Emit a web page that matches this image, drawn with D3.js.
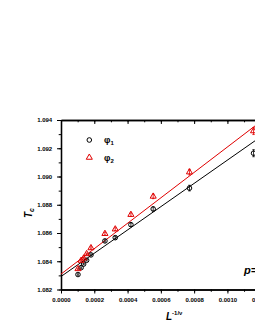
<!DOCTYPE html>
<html><head><meta charset="utf-8">
<script src="https://cdn.jsdelivr.net/npm/d3@7"></script>
<style>body{margin:0;background:#fff}svg{display:block}</style>
</head><body>
<script>
const xVals   = [0.000102,0.000121,0.000136,0.000154,0.000180,0.000264,0.000326,0.000420,0.000554,0.000772,0.001157];
const phi1    = [1.08306,1.08355,1.08380,1.08407,1.08445,1.08544,1.08567,1.08659,1.08770,1.08918,1.09165];
const phi1Err = [0.00005,0.00005,0.00005,0.00005,0.00006,0.00008,0.00010,0.00012,0.00015,0.00020,0.00025];
const phi2    = [1.08346,1.08405,1.08421,1.08452,1.08494,1.08595,1.08627,1.08730,1.08859,1.09031,1.09322];
const phi2Err = [0.00005,0.00005,0.00005,0.00006,0.00008,0.00010,0.00010,0.00012,0.00016,0.00020,0.00025];
const fit1 = {a:1.08292, b:8.24};
const fit2 = {a:1.08309, b:9.0};
const xTicks = [0,0.0002,0.0004,0.0006,0.0008,0.0010,0.0012];
const yTicks = [1.082,1.084,1.086,1.088,1.090,1.092,1.094];

const W=255,H=330;
const svg=d3.select("body").append("svg").attr("width",W).attr("height",H);
svg.append("rect").attr("width",W).attr("height",H).attr("fill","#fff");
const x=d3.scaleLinear().domain([0,0.0012]).range([61,260.7]);
const y=d3.scaleLinear().domain([1.082,1.094]).range([289.5,120]);
const font="'Liberation Sans', Arial, sans-serif";

// axes
const xMinor=d3.range(0,0.00125,0.0001);
const yMinor=d3.range(1.082,1.0945,0.001);
const xa=svg.append("g").attr("transform",`translate(0,${y(1.082)})`)
  .call(d3.axisBottom(x).tickValues(xTicks).tickFormat(d3.format(".4f")).tickSize(4).tickSizeOuter(0));
svg.append("g").attr("transform",`translate(0,${y(1.082)})`)
  .call(d3.axisBottom(x).tickValues(xMinor).tickFormat("").tickSize(2.3).tickSizeOuter(0));
const ya=svg.append("g").attr("transform",`translate(${x(0)},0)`)
  .call(d3.axisLeft(y).tickValues(yTicks).tickFormat(d3.format(".3f")).tickSize(4).tickSizeOuter(0));
svg.append("g").attr("transform",`translate(${x(0)},0)`)
  .call(d3.axisLeft(y).tickValues(yMinor).tickFormat("").tickSize(2.3).tickSizeOuter(0));
// top axis ticks inward
svg.append("g").attr("transform",`translate(0,${y(1.094)})`)
  .call(d3.axisBottom(x).tickValues(xTicks).tickFormat("").tickSize(4).tickSizeOuter(0));
svg.append("g").attr("transform",`translate(0,${y(1.094)})`)
  .call(d3.axisBottom(x).tickValues(xMinor).tickFormat("").tickSize(2.3).tickSizeOuter(0));
svg.selectAll(".domain").attr("stroke","#000").attr("stroke-width",1.3);
svg.selectAll(".tick line").attr("stroke","#000").attr("stroke-width",1);
svg.selectAll(".tick text").attr("font-family",font).attr("font-weight","bold").attr("font-size",6).attr("fill","#000");
xa.selectAll(".tick text").attr("dy","0.9em");
ya.selectAll(".tick text").attr("dx","-0.3em");

// fit lines
const lx=[0,0.0012];
[[fit1,"#000"],[fit2,"#e00000"]].forEach(([f,c])=>{
  svg.append("line").attr("x1",x(lx[0])).attr("y1",y(f.a+f.b*lx[0]))
    .attr("x2",x(lx[1])).attr("y2",y(f.a+f.b*lx[1]))
    .attr("stroke",c).attr("stroke-width",1);
});

// error bars + markers
function errBars(vals,errs,col){
  xVals.forEach((xv,i)=>{
    svg.append("line").attr("x1",x(xv)).attr("x2",x(xv))
      .attr("y1",y(vals[i]-errs[i])).attr("y2",y(vals[i]+errs[i]))
      .attr("stroke",col).attr("stroke-width",0.8);
    [vals[i]-errs[i],vals[i]+errs[i]].forEach(v=>svg.append("line")
      .attr("x1",x(xv)-1.2).attr("x2",x(xv)+1.2).attr("y1",y(v)).attr("y2",y(v))
      .attr("stroke",col).attr("stroke-width",0.8));
  });
}
errBars(phi1,phi1Err,"#000");
errBars(phi2,phi2Err,"#e00000");
const tri=d3.symbol().type(d3.symbolTriangle).size(16);
svg.append("g").selectAll("circle").data(xVals).join("circle")
  .attr("cx",d=>x(d)).attr("cy",(d,i)=>y(phi1[i])).attr("r",2.3)
  .attr("fill","none").attr("stroke","#000").attr("stroke-width",1);
svg.append("g").selectAll("path").data(xVals).join("path")
  .attr("d",tri).attr("transform",(d,i)=>`translate(${x(d)},${y(phi2[i])})`)
  .attr("fill","none").attr("stroke","#e00000").attr("stroke-width",1);

// legend
svg.append("circle").attr("cx",89.3).attr("cy",140).attr("r",2.3).attr("fill","none").attr("stroke","#000").attr("stroke-width",1);
svg.append("path").attr("d",tri).attr("transform","translate(89.3,157.5)").attr("fill","none").attr("stroke","#e00000").attr("stroke-width",1);
const lg=[["1",143],["2",161]];
lg.forEach(([s,yy])=>{
  const t=svg.append("text").attr("x",104).attr("y",yy).attr("font-family",font).attr("font-weight","bold").attr("font-size",9).attr("fill","#000");
  t.append("tspan").text("φ");
  t.append("tspan").attr("font-size",6).attr("dy",2).text(s);
});

// axis titles
const yt=svg.append("text").attr("transform","translate(32,213) rotate(-90)").attr("text-anchor","middle")
  .attr("font-family",font).attr("font-weight","bold").attr("font-style","italic").attr("font-size",10).attr("fill","#000");
yt.append("tspan").text("T");
yt.append("tspan").attr("font-size",7).attr("dy",2).text("c");
const xt=svg.append("text").attr("x",166).attr("y",320)
  .attr("font-family",font).attr("font-weight","bold").attr("font-size",10).attr("fill","#000");
xt.append("tspan").attr("font-style","italic").text("L");
xt.append("tspan").attr("font-size",6).attr("dy",-5).text("-1/ν");

svg.append("text").attr("x",244).attr("y",274).attr("font-family",font).attr("font-weight","bold")
  .attr("font-style","italic").attr("font-size",11).attr("fill","#000").text("p=0.5");
</script>
</body></html>
